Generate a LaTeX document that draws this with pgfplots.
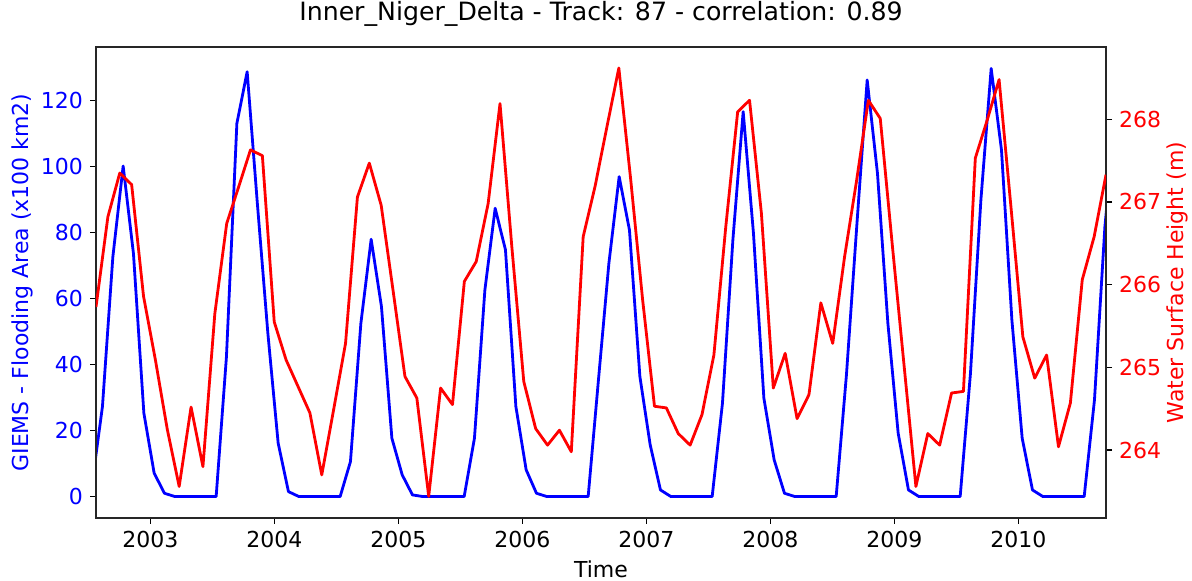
\documentclass[border=0pt]{standalone}
\usepackage{fontspec}
\setmainfont{DejaVu Sans}
\usepackage{pgfplots}
\usepackage{pgfplotstable}
\pgfplotsset{compat=1.18}
\definecolor{mblue}{RGB}{0,0,255}
\definecolor{mred}{RGB}{255,0,0}

\pgfplotstableread{
t v
2002.530 4.0
2002.613 27.3
2002.697 72.7
2002.780 100.2
2002.863 73.7
2002.947 25.3
2003.030 7.1
2003.113 1.0
2003.197 0
2003.280 0
2003.363 0
2003.447 0
2003.530 0
2003.613 42.4
2003.697 113.1
2003.780 128.8
2003.863 88.5
2003.947 49.5
2004.030 16.2
2004.113 1.5
2004.197 0
2004.280 0
2004.363 0
2004.447 0
2004.530 0
2004.613 10.6
2004.697 52.5
2004.780 78.0
2004.863 57.6
2004.947 17.7
2005.030 6.6
2005.113 0.5
2005.197 0
2005.280 0
2005.363 0
2005.447 0
2005.530 0
2005.613 17.7
2005.697 62.6
2005.780 87.4
2005.863 74.8
2005.947 27.3
2006.030 8.1
2006.113 1.0
2006.197 0
2006.280 0
2006.363 0
2006.447 0
2006.530 0
2006.613 35.4
2006.697 70.7
2006.780 97.0
2006.863 80.8
2006.947 36.4
2007.030 15.7
2007.113 2.0
2007.197 0
2007.280 0
2007.363 0
2007.447 0
2007.530 0
2007.613 28.3
2007.697 77.8
2007.780 116.7
2007.863 79.8
2007.947 29.8
2008.030 11.1
2008.113 1.0
2008.197 0
2008.280 0
2008.363 0
2008.447 0
2008.530 0
2008.613 37.0
2008.697 82.5
2008.780 126.3
2008.863 98.0
2008.947 52.5
2009.030 19.2
2009.113 2.0
2009.197 0
2009.280 0
2009.363 0
2009.447 0
2009.530 0
2009.613 37.4
2009.697 89.9
2009.780 129.8
2009.863 105.1
2009.947 53.5
2010.030 17.7
2010.113 2.0
2010.197 0
2010.280 0
2010.363 0
2010.447 0
2010.530 0
2010.613 29.3
2010.697 81.8
2010.780 115.0
}\giems

\pgfplotstableread{
t h
2002.5610 265.73
2002.6568 266.82
2002.7527 267.35
2002.8485 267.21
2002.9443 265.86
2003.0401 265.09
2003.1360 264.25
2003.2318 263.56
2003.3276 264.52
2003.4234 263.80
2003.5193 265.65
2003.6151 266.74
2003.7109 267.18
2003.8067 267.63
2003.9026 267.56
2003.9984 265.55
2004.0942 265.09
2004.1900 264.77
2004.2859 264.45
2004.3817 263.70
2004.4775 264.49
2004.5733 265.29
2004.6692 267.06
2004.7650 267.47
2004.8608 266.96
2004.9566 265.93
2005.0525 264.89
2005.1483 264.63
2005.2441 263.44
2005.3399 264.75
2005.4358 264.55
2005.5316 266.04
2005.6274 266.28
2005.7232 266.98
2005.8191 268.19
2005.9149 266.45
2006.0107 264.83
2006.1065 264.26
2006.2024 264.06
2006.2982 264.24
2006.3940 263.98
2006.4898 266.58
2006.5857 267.19
2006.6815 267.91
2006.7773 268.62
2006.8731 267.27
2006.9690 265.82
2007.0648 264.53
2007.1606 264.51
2007.2564 264.20
2007.3523 264.06
2007.4481 264.43
2007.5439 265.15
2007.6397 266.70
2007.7356 268.09
2007.8314 268.23
2007.9272 266.86
2008.0230 264.75
2008.1189 265.17
2008.2147 264.38
2008.3105 264.67
2008.4063 265.78
2008.5022 265.29
2008.5980 266.34
2008.6938 267.25
2008.7896 268.23
2008.8855 268.01
2008.9813 266.50
2009.0771 265.03
2009.1729 263.56
2009.2688 264.20
2009.3646 264.06
2009.4604 264.69
2009.5562 264.71
2009.6521 267.53
2009.7479 267.99
2009.8437 268.48
2009.9395 266.94
2010.0354 265.37
2010.1312 264.87
2010.2270 265.15
2010.3228 264.04
2010.4187 264.57
2010.5145 266.06
2010.6103 266.58
2010.7061 267.33
}\wsh

\pgfplotsset{
  common/.style={
    at={(0,0)}, anchor=south west,
    scale only axis, width=505pt, height=235.5pt,
    xmin=2002.561, xmax=2010.7061,
    axis line style={line width=0.8pt, black!85},
    tick align=outside, major tick length=3pt,
    tick style={black, line width=0.6pt},
    tick label style={font=\fontsize{11}{13}\selectfont},
    label style={font=\fontsize{11}{13}\selectfont},
    /pgf/number format/assume math mode=true,
    scaled y ticks=false,
  }
}

\begin{document}
\begin{tikzpicture}
\useasboundingbox (-48pt,-31.5pt) rectangle (548pt,259pt);
\begin{axis}[common,
  ymin=-6.5, ymax=136.3,
  xtick={2003,2004,2005,2006,2007,2008,2009,2010},
  xticklabels={2003,2004,2005,2006,2007,2008,2009,2010},
  ytick={0,20,40,60,80,100,120},
  xtick pos=bottom, ytick pos=left,
  yticklabel style={text=mblue},
  ylabel={GIEMS - Flooding Area (x100 km2)},
  ylabel style={text=mblue, at={(axis description cs:-0.0733,0.5)}, anchor=center},
  xlabel={Time},
  xlabel style={at={(axis description cs:0.5,0)}, anchor=base, yshift=-30pt},
  title={Inner\_Niger\_Delta - Track: 87 - correlation: 0.89},
  title style={font=\fontsize{12.6}{15}\selectfont, at={(axis description cs:0.5,1)}, anchor=base, yshift=7pt},
]
\addplot[mblue, line width=1.4pt, line join=round] table[x=t, y=v] {\giems};
\end{axis}
\begin{axis}[common,
  ymin=263.179, ymax=268.874,
  xtick=\empty,
  ytick={264,265,266,267,268},
  ytick pos=right,
  yticklabel style={text=mred},
  ylabel={Water Surface Height (m)},
  ylabel style={text=mred, at={(axis description cs:1.071,0.5)}, anchor=center},
]
\addplot[mred, line width=1.4pt, line join=round] table[x=t, y=h] {\wsh};
\end{axis}
\end{tikzpicture}
\end{document}
